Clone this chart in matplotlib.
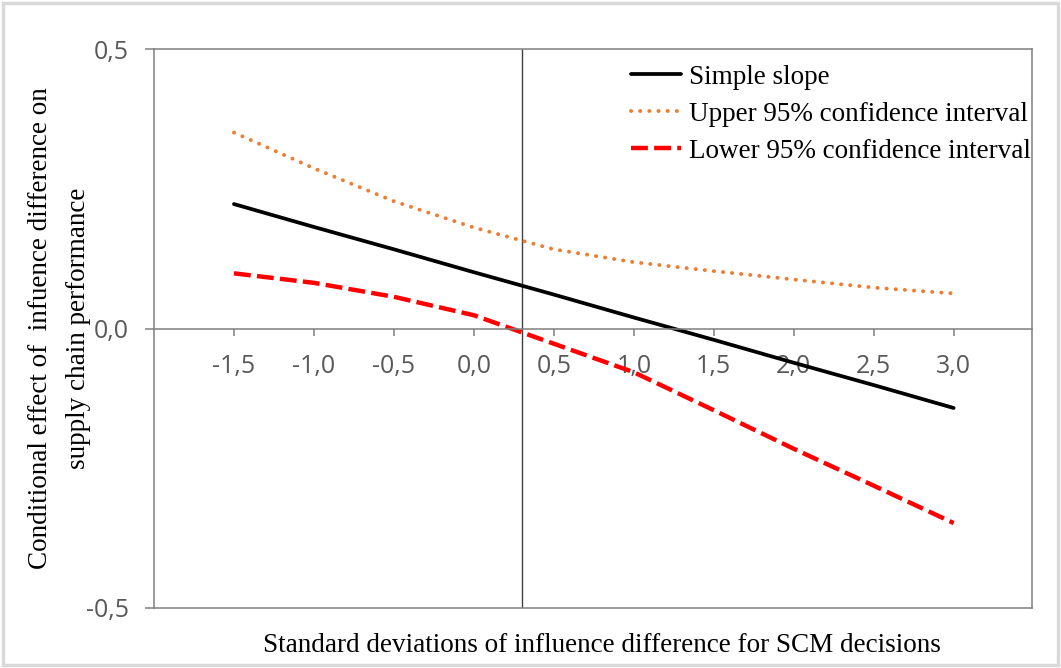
"""
Johnson-Neyman style plot: conditional effect with 95% confidence band
"""

import matplotlib
matplotlib.use("Agg")
from matplotlib import pyplot as plt
from matplotlib.patches import Rectangle

# x values (standard deviations of the moderator)
sd_values = [-1.5, -1.0, -0.5, 0.0, 0.5, 1.0, 1.5, 2.0, 2.5, 3.0]

simple_slope = [0.223, 0.182, 0.142, 0.101, 0.061, 0.020, -0.020, -0.061, -0.101, -0.142]
upper_ci = [0.351, 0.287, 0.228, 0.181, 0.142, 0.119, 0.103, 0.088, 0.0735, 0.063]
lower_ci = [0.099, 0.082, 0.057, 0.024, -0.027, -0.078, -0.146, -0.215, -0.281, -0.348]

x_ticks = [-1.5, -1.0, -0.5, 0.0, 0.5, 1.0, 1.5, 2.0, 2.5, 3.0]
y_ticks = [-0.5, 0.0, 0.5]
jn_point = 0.304  # where the lower bound crosses zero

TICK_FONT = "Open Sans"
TEXT_FONT = "Liberation Serif"
GREY = "#595959"


def fmt(v):
    return f"{v:.1f}".replace(".", ",")


fig = plt.figure(figsize=(10.61, 6.68), dpi=100)

# light chart-area border
fig.patches.append(Rectangle((0.003, 0.004), 0.994, 0.992, transform=fig.transFigure,
                             facecolor="none", edgecolor="#d9d9d9", linewidth=2.5))

ax = fig.add_axes([154 / 1061, 1 - 608 / 668, 878 / 1061, 558.7 / 668])
ax.set_xlim(-2.0, 3.49)
ax.set_ylim(-0.5, 0.5)

ax.plot(sd_values, simple_slope, color="black", lw=2.7, label="Simple slope",
        solid_capstyle="round")
ax.plot(sd_values, upper_ci, color="#ED7D31", lw=2.8, linestyle=(0, (0.05, 2.3)),
        dash_capstyle="round", label="Upper 95% confidence interval")
ax.plot(sd_values, lower_ci, color="#FF0000", lw=3.2, linestyle=(0, (3.8, 1.4)),
        label="Lower 95% confidence interval")

ax.axvline(jn_point, color="#404040", lw=1.0, zorder=1)

# x axis sits on y = 0, box border kept at the bottom
ax.spines["bottom"].set_position(("data", 0))
for side in ["left", "right", "top", "bottom"]:
    ax.spines[side].set_color("#7f7f7f")
    ax.spines[side].set_linewidth(1.1)
ax.plot([0, 1], [0, 0], transform=ax.transAxes, color="#7f7f7f", lw=1.1, clip_on=False)

ax.set_xticks(x_ticks)
ax.set_xticklabels([fmt(v) for v in x_ticks])
ax.set_yticks(y_ticks)
ax.set_yticklabels([fmt(v) for v in y_ticks])
ax.tick_params(axis="x", direction="out", length=5, width=1.1, color="#7f7f7f",
               pad=13.5, labelsize=18, labelcolor=GREY)
ax.tick_params(axis="y", direction="out", length=6.5, width=1.1, color="#7f7f7f",
               pad=11.5, labelsize=18, labelcolor=GREY)
for lbl in ax.get_xticklabels() + ax.get_yticklabels():
    lbl.set_fontfamily(TICK_FONT)

fig.text(41 / 1061, 1 - 328 / 668, "Conditional effect of  infuence difference on",
         rotation=90, ha="center", va="center", fontsize=19.5, family=TEXT_FONT)
fig.text(79 / 1061, 1 - 328 / 668, "supply chain performance",
         rotation=90, ha="center", va="center", fontsize=19.5, family=TEXT_FONT)
fig.text(602 / 1061, 1 - 646 / 668,
         "Standard deviations of influence difference for SCM decisions",
         ha="center", va="center", fontsize=19.5, family=TEXT_FONT)

ax.legend(loc="upper left", bbox_to_anchor=(617 / 1061, 1 - 51 / 668),
          bbox_transform=fig.transFigure, frameon=False, borderpad=0,
          handlelength=1.85, handletextpad=0.3, labelspacing=0.45,
          prop={"family": TEXT_FONT, "size": 19.5})

fig.savefig("out.png", dpi=100)
